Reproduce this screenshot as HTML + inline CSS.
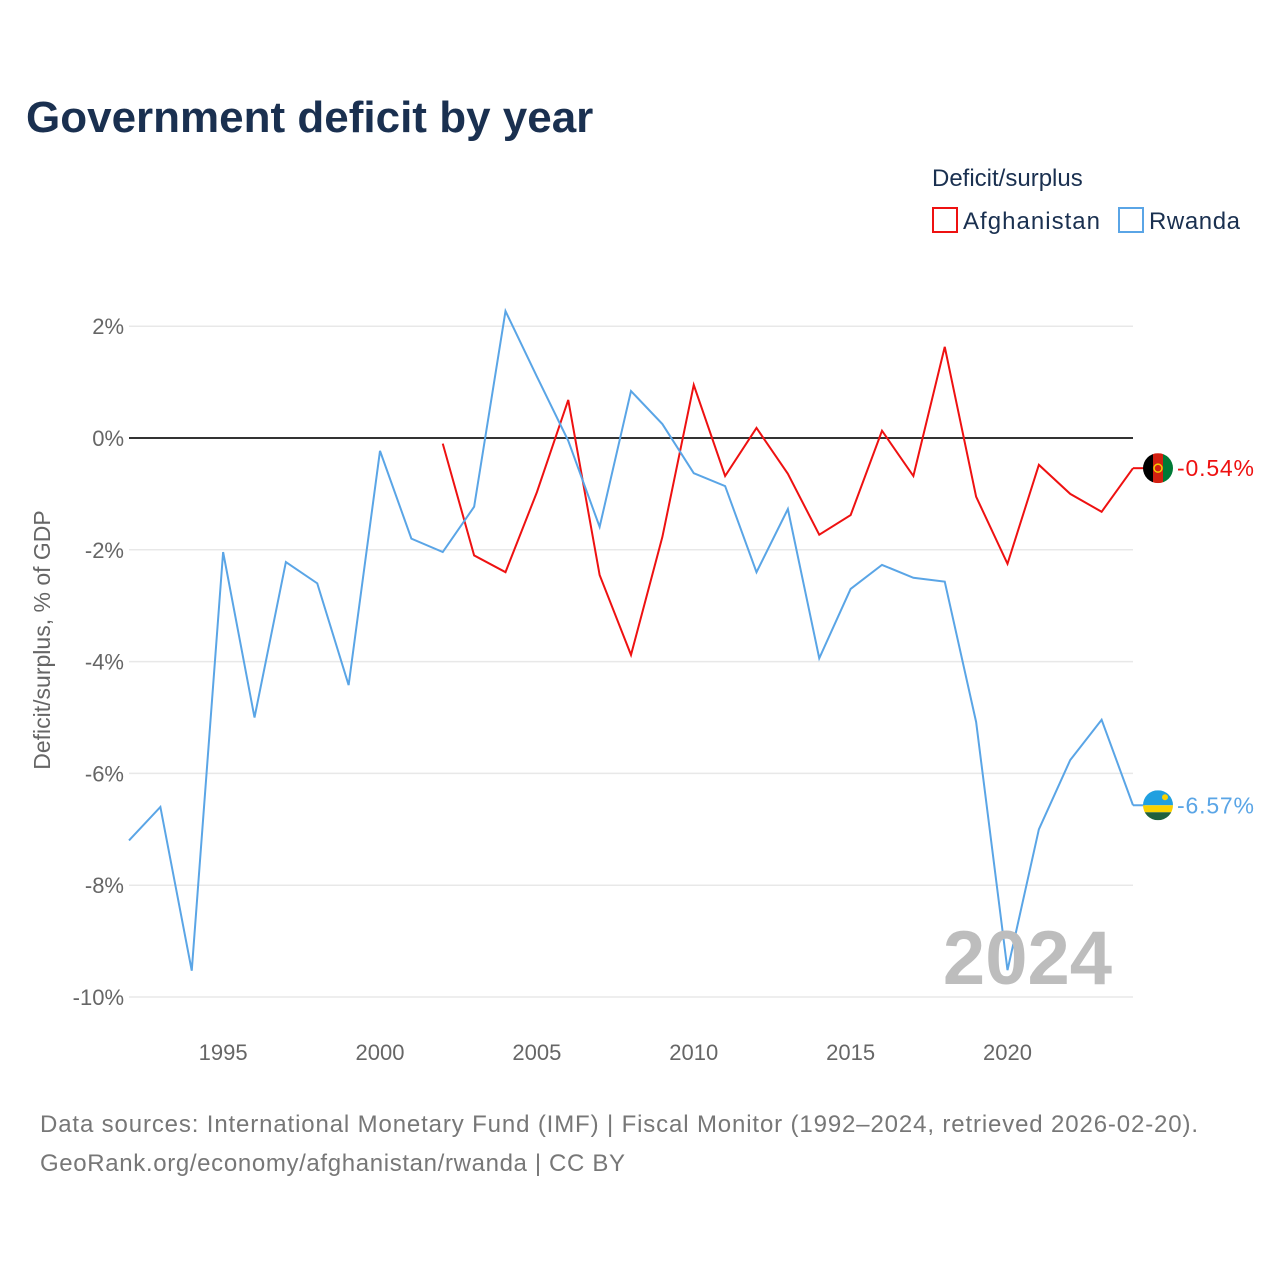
<!DOCTYPE html>
<html><head><meta charset="utf-8">
<style>
body{margin:0;background:#fff;font-family:"Liberation Sans",sans-serif;}
svg text{font-family:"Liberation Sans",sans-serif;}
</style></head>
<body>
<svg id="chart" width="1280" height="1280" xmlns="http://www.w3.org/2000/svg">
<text x="26" y="132" font-size="44" font-weight="bold" fill="#1a3050">Government deficit by year</text>
<text x="932" y="186" font-size="24" fill="#1a3050">Deficit/surplus</text>
<g>
<rect x="933" y="208" width="24" height="24" fill="none" stroke="#ee1111" stroke-width="2"/>
<text x="963" y="229" font-size="24" fill="#1a3050" textLength="137">Afghanistan</text></g>
<g>
<rect x="1119" y="208" width="24" height="24" fill="none" stroke="#5aa5e6" stroke-width="2"/>
<text x="1149" y="229" font-size="24" fill="#1a3050" textLength="91">Rwanda</text></g>
<text transform="translate(50,640) rotate(-90)" text-anchor="middle" font-size="23" fill="#666">Deficit/surplus, % of GDP</text>
<g id="grid"></g><g id="series"></g>
<text x="1112" y="984" text-anchor="end" font-size="76" font-weight="bold" fill="#bdbdbd">2024</text>
<text x="40" y="1132" font-size="24" fill="#777" textLength="1158">Data sources: International Monetary Fund (IMF) | Fiscal Monitor (1992–2024, retrieved 2026-02-20).</text>
<text x="40" y="1171" font-size="24" fill="#777" textLength="585">GeoRank.org/economy/afghanistan/rwanda | CC BY</text>
</svg>
<script>
const yTicks=[2,0,-2,-4,-6,-8,-10];
const xTicks=[1995,2000,2005,2010,2015,2020];
const rwYears=[1992,1993,1994,1995,1996,1997,1998,1999,2000,2001,2002,2003,2004,2005,2006,2007,2008,2009,2010,2011,2012,2013,2014,2015,2016,2017,2018,2019,2020,2021,2022,2023,2024];
const rwanda=[-7.2,-6.6,-9.53,-2.04,-5.0,-2.22,-2.6,-4.42,-0.23,-1.8,-2.04,-1.23,2.27,1.1,-0.05,-1.59,0.84,0.25,-0.63,-0.86,-2.4,-1.27,-3.94,-2.7,-2.27,-2.5,-2.57,-5.08,-9.52,-7.0,-5.76,-5.04,-6.57];
const afYears=[2002,2003,2004,2005,2006,2007,2008,2009,2010,2011,2012,2013,2014,2015,2016,2017,2018,2019,2020,2021,2022,2023,2024];
const afghanistan=[-0.1,-2.1,-2.4,-0.97,0.68,-2.45,-3.88,-1.77,0.95,-0.68,0.18,-0.64,-1.73,-1.38,0.13,-0.68,1.63,-1.05,-2.25,-0.48,-1.0,-1.32,-0.54];
const NS='http://www.w3.org/2000/svg';
const X=yr=>129+(yr-1992)*31.375;
const Y=v=>438-v*55.9;
function mk(t,a,p){const e=document.createElementNS(NS,t);for(const k in a)e.setAttribute(k,a[k]);p.appendChild(e);return e;}
const grid=document.getElementById('grid'),ser=document.getElementById('series');
yTicks.forEach(v=>{
 const l=mk('line',{x1:129,x2:1133,y1:Y(v),y2:Y(v),stroke:v===0?'#333':'#e8e8e8','stroke-width':v===0?2:1.5},grid);
 
 
 const t=mk('text',{x:124,y:Y(v)+8,'text-anchor':'end','font-size':22,fill:'#666'},grid);
 t.textContent=v+'%';
 
 
});
xTicks.forEach(yr=>{
 const t=mk('text',{x:X(yr),y:1060,'text-anchor':'middle','font-size':22,fill:'#666'},grid);
 t.textContent=yr;
 
 
});
function line(years,vals,color,name){
 const d=years.map((y,i)=>(i?'L':'M')+X(y)+','+Y(vals[i])).join(' ');
 const p=mk('path',{d:d,fill:'none',stroke:color,'stroke-width':2},ser);
 
 
 const last=vals[vals.length-1],lx=X(years[years.length-1]),ly=Y(last);
 const s=mk('line',{x1:lx,x2:lx+12,y1:ly,y2:ly,stroke:color,'stroke-width':2},ser);
 
 
 const t=mk('text',{x:1177,y:ly+8,'font-size':23,fill:color,textLength:77},ser);
 t.textContent=last.toFixed(2)+'%';
 
 
 return ly;
}
const ay=line(afYears,afghanistan,'#ee1111','afghanistan-line');
const ry=line(rwYears,rwanda,'#5aa5e6','rwanda-line');
const fa=mk('g',{},ser);


mk('clipPath',{id:'ca'},fa).appendChild(document.createElementNS(NS,'circle'));
const ca=fa.querySelector('#ca circle');ca.setAttribute('cx',1158);ca.setAttribute('cy',ay);ca.setAttribute('r',15);
const ga=mk('g',{'clip-path':'url(#ca)'},fa);
mk('rect',{x:1143,y:ay-15,width:10,height:30,fill:'#000'},ga);
mk('rect',{x:1153,y:ay-15,width:10,height:30,fill:'#d32011'},ga);
mk('rect',{x:1163,y:ay-15,width:10,height:30,fill:'#007a36'},ga);
mk('circle',{cx:1158,cy:ay,r:4,fill:'none',stroke:'#f5d000','stroke-width':1.5},ga);
const fr=mk('g',{},ser);


mk('clipPath',{id:'cr'},fr).appendChild(document.createElementNS(NS,'circle'));
const cr=fr.querySelector('#cr circle');cr.setAttribute('cx',1158);cr.setAttribute('cy',ry);cr.setAttribute('r',15);
const gr=mk('g',{'clip-path':'url(#cr)'},fr);
mk('rect',{x:1143,y:ry-15,width:30,height:15,fill:'#20a0e0'},gr);
mk('rect',{x:1143,y:ry,width:30,height:7,fill:'#fad201'},gr);
mk('rect',{x:1143,y:ry+7,width:30,height:8,fill:'#20603d'},gr);
mk('circle',{cx:1165,cy:ry-8,r:3,fill:'#fad201'},gr);
</script>
</body></html>
